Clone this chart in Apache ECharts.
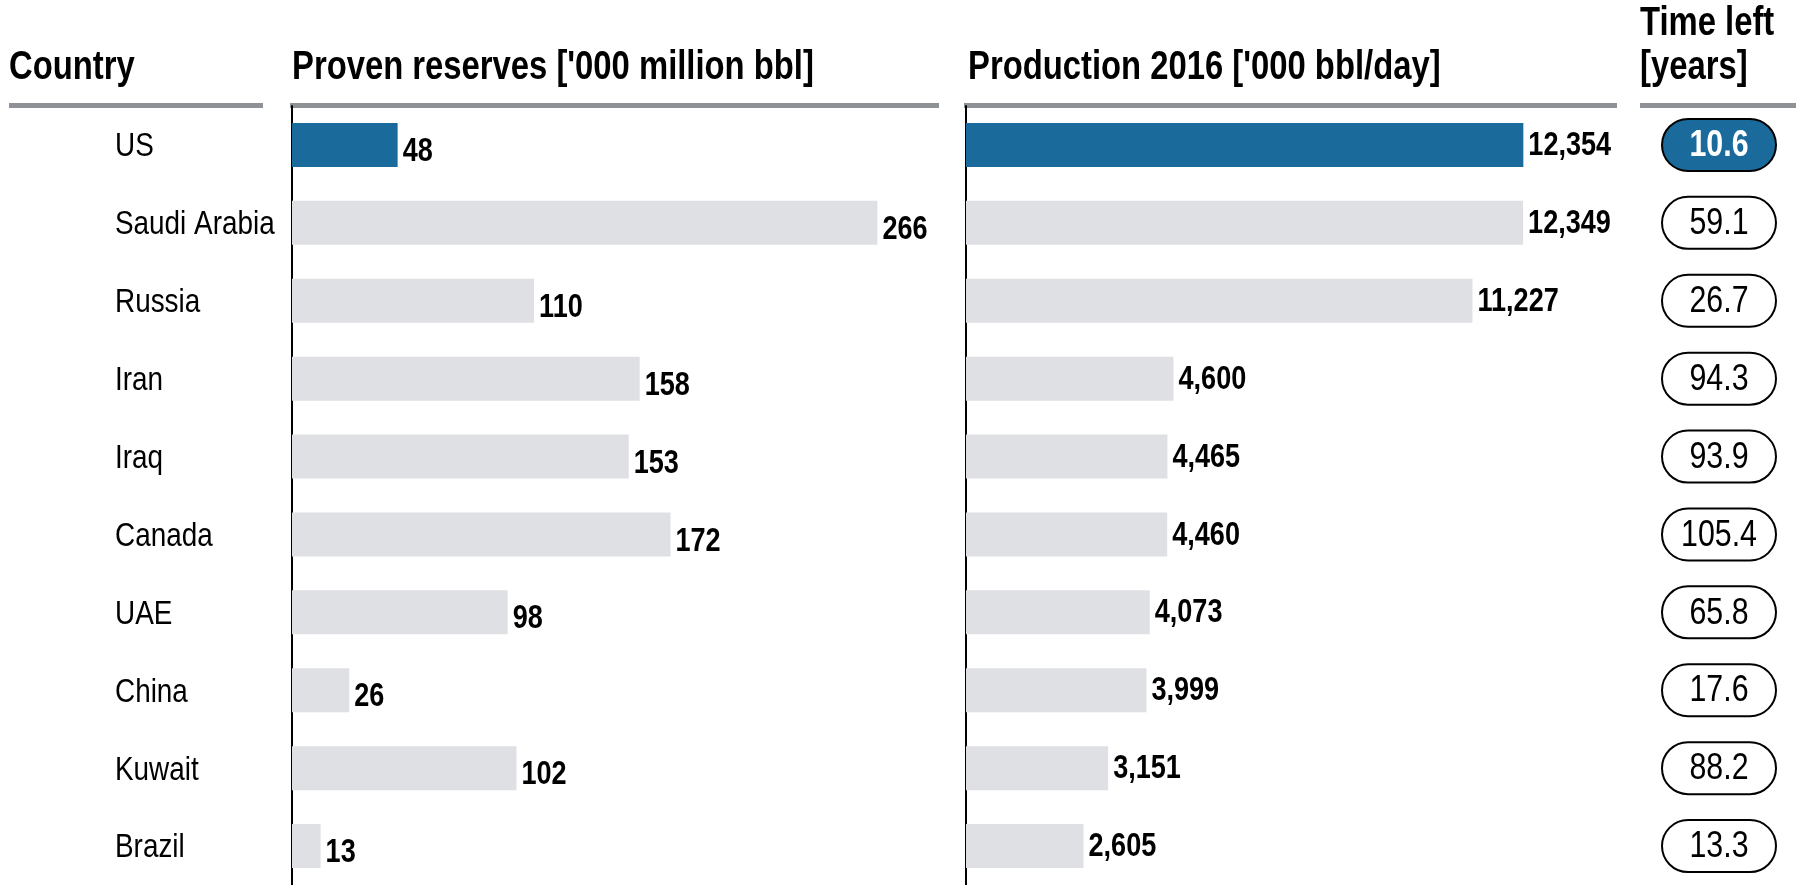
<!DOCTYPE html>
<html>
<head>
<meta charset="utf-8">
<script src="https://cdn.jsdelivr.net/npm/echarts@6/dist/echarts.min.js"></script>
<style>
  html, body { margin: 0; padding: 0; background: #fff; }
  #chart { width: 1796px; height: 885px; }
</style>
</head>
<body>
<div id="chart"></div>
<script>
const countries = ['US', 'Saudi Arabia', 'Russia', 'Iran', 'Iraq', 'Canada', 'UAE', 'China', 'Kuwait', 'Brazil'];
const reserves = [48, 266, 110, 158, 153, 172, 98, 26, 102, 13];
const production = [12354, 12349, 11227, 4600, 4465, 4460, 4073, 3999, 3151, 2605];
const yearsLeft = [10.6, 59.1, 26.7, 94.3, 93.9, 105.4, 65.8, 17.6, 88.2, 13.3];
const highlight = 'US';

// no narrow font installed, so squeeze Liberation Sans horizontally
const FONT = "'Liberation Sans', Arial, sans-serif";
const NARROW = 0.82;
const BLUE = '#1a6b9b';
const GREY = '#dfe0e4';
const RULE = '#8e9297';

const chart = echarts.init(document.getElementById('chart'));

const barData = vals => vals.map((v, i) => ({
  value: v,
  itemStyle: { color: countries[i] === highlight ? BLUE : GREY }
}));

const catAxis = gridIndex => ({
  type: 'category', gridIndex, data: countries, inverse: true,
  axisTick: { show: false },
  axisLabel: { show: false },
  axisLine: { show: gridIndex < 2, lineStyle: { color: '#000', width: 2 } }
});

const valAxis = (gridIndex, max) => ({
  type: 'value', gridIndex, min: 0, max,
  show: false, splitLine: { show: false }
});

const narrowText = (x, y, text, size, weight, color, align) => ({
  type: 'text', x, y, scaleX: NARROW,
  style: {
    text, fill: color || '#000', align: align || 'left', verticalAlign: 'middle',
    font: `${weight || 'normal'} ${size}px ${FONT}`
  }
});

// value labels at the end of each bar
const valueLabels = (axisIdx, vals, fmt, dy) => ({
  type: 'custom', xAxisIndex: axisIdx, yAxisIndex: axisIdx, z: 5,
  data: vals.map((v, i) => [v, i]),
  renderItem: (params, api) => {
    const p = api.coord([api.value(0), api.value(1)]);
    return narrowText(p[0] + 5, p[1] + dy, fmt(api.value(0)), 33, 'bold');
  }
});

const header = (x, y, text) => narrowText(x, y, text, 40, 'bold');
const rule = (x1, x2) => ({
  type: 'line', shape: { x1, y1: 105.5, x2, y2: 105.5 },
  style: { stroke: RULE, lineWidth: 5 }
});

chart.setOption({
  animation: false,
  grid: [
    { left: 292, top: 106, width: 647, height: 782 },
    { left: 966, top: 106, width: 651, height: 782 },
    { left: 1640, top: 106, width: 156, height: 782 }
  ],
  yAxis: [catAxis(0), catAxis(1), catAxis(2)],
  xAxis: [valAxis(0, 294), valAxis(1, 14430), valAxis(2, 156)],
  series: [
    { type: 'bar', xAxisIndex: 0, yAxisIndex: 0, barWidth: 44, data: barData(reserves) },
    { type: 'bar', xAxisIndex: 1, yAxisIndex: 1, barWidth: 44, data: barData(production) },
    valueLabels(0, reserves, v => String(v), 7),
    valueLabels(1, production, v => v.toLocaleString('en-US'), 1),
    {
      // country names, left aligned
      type: 'custom', xAxisIndex: 0, yAxisIndex: 0,
      data: countries.map((c, i) => [0, i]),
      renderItem: (params, api) => {
        const p = api.coord([0, api.value(1)]);
        return narrowText(p[0] - 177, p[1] + 2, countries[params.dataIndex], 34);
      }
    },
    {
      // time left pills
      type: 'custom', xAxisIndex: 2, yAxisIndex: 2,
      data: yearsLeft.map((v, i) => [v, i]),
      renderItem: (params, api) => {
        const p = api.coord([0, api.value(1)]);
        const hi = countries[params.dataIndex] === highlight;
        const cx = p[0] + 79, w = 114, h = 52;
        return {
          type: 'group',
          children: [
            {
              type: 'rect',
              shape: { x: cx - w / 2, y: p[1] - h / 2, width: w, height: h, r: h / 2 },
              style: { fill: hi ? BLUE : '#fff', stroke: '#000', lineWidth: 2 }
            },
            narrowText(cx, p[1] + 1, api.value(0).toFixed(1), 37,
              hi ? 'bold' : 'normal', hi ? '#fff' : '#000', 'center')
          ]
        };
      }
    }
  ],
  graphic: [
    rule(9, 263), rule(290, 939), rule(964, 1617), rule(1640, 1796),
    header(9, 68, 'Country'),
    header(292, 68, "Proven reserves ['000 million bbl]"),
    header(968, 68, "Production 2016 ['000 bbl/day]"),
    header(1640, 24, 'Time left'),
    header(1640, 68, '[years]')
  ]
});
</script>
</body>
</html>
